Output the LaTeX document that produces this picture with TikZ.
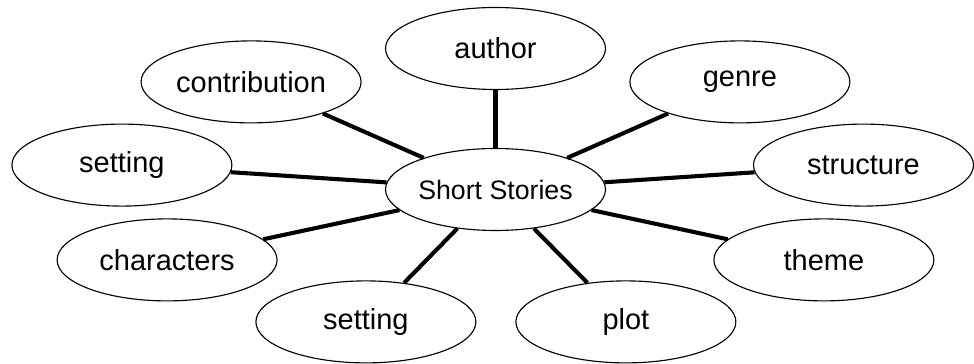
\documentclass[tikz,border=0pt]{standalone}
\usepackage{fontspec}
\setmainfont{Liberation Sans}
\usepackage{xcolor}
\usepackage{tikz}
\usetikzlibrary{positioning,shapes.geometric}
\definecolor{smInk}{HTML}{000000}
\definecolor{smWhite}{HTML}{FFFFFF}
\tikzset{
  sm-oval/.style={
    draw=smInk, line width=0.8pt, ellipse, fill=smWhite,
    inner sep=0pt, minimum width=5.5cm, minimum height=2.05cm,
    font=\fontsize{20.6}{24}\selectfont
  },
  sm-hub/.style={sm-oval, font=\fontsize{19}{22}\selectfont},
  sm-spoke/.style={line width=2.9pt, draw=smInk}
}

\begin{document}
\begin{tikzpicture}
\useasboundingbox (-12.3875,-4.3625) rectangle (11.9625,4.7375);
\node[sm-hub] (hub) at (0,0) {Short Stories};
\node[sm-oval] (author) at (0,3.525) {author};
\node[sm-oval] (contrib) at (-6.11,2.69) {contribution};
\node[sm-oval] (genre) at (6.11,2.69) {genre};
\node[sm-oval] (settingl) at (-9.34,0.61) {setting};
\node[sm-oval] (struct) at (9.2,0.61) {structure};
\node[sm-oval] (chars) at (-8.21,-1.76) {characters};
\node[sm-oval] (theme) at (8.21,-1.76) {theme};
\node[sm-oval] (settingb) at (-3.24,-3.31) {setting};
\node[sm-oval] (plot) at (3.26,-3.31) {plot};

\foreach \leaf in {author,contrib,genre,settingl,struct,chars,theme,settingb,plot}
  \draw[sm-spoke] (hub) -- (\leaf);
\end{tikzpicture}
\end{document}
